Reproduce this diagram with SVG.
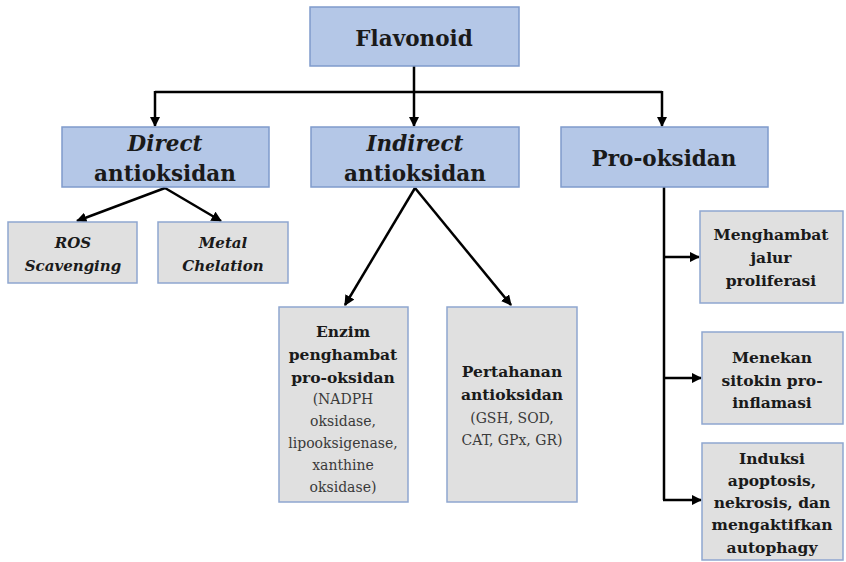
<svg xmlns="http://www.w3.org/2000/svg" width="846" height="562" viewBox="0 0 846 562">
<defs>
<marker id="arr" viewBox="0 0 10 10" refX="9" refY="5" markerWidth="4.2" markerHeight="4.2" orient="auto" markerUnits="strokeWidth">
<path d="M0,0 L10,5 L0,10 z" fill="#000"/>
</marker>
<style>
.blue{fill:#b4c7e7;stroke:#7f9bcc;stroke-width:1.5}
.gray{fill:#e0e0e0;stroke:#8fa6d0;stroke-width:1.5}
text{font-family:"DejaVu Serif","Liberation Serif",serif;text-anchor:middle;fill:#1a1a1a}
.h{font-size:21.5px;font-weight:bold}
.b{font-size:15.5px;font-weight:bold}
.bi{font-size:15px;font-weight:bold;font-style:italic}
.s{font-size:14px;fill:#3a3a3a}
.ln{fill:none;stroke:#000;stroke-width:2.5}
.la{fill:none;stroke:#000;stroke-width:2.5;marker-end:url(#arr)}
</style>
</defs>
<rect width="846" height="562" fill="#fff"/>
<g id="connectors">
<path class="ln" d="M414,66 V92 M155,92 H662"/>
<path class="la" d="M155,91 V126"/>
<path class="la" d="M414,91 V126"/>
<path class="la" d="M662,91 V126"/>
<path class="la" d="M165,188 L77,221"/>
<path class="la" d="M165,188 L221,221"/>
<path class="la" d="M415,188 L345,305"/>
<path class="la" d="M415,188 L511,305"/>
<path class="ln" d="M664,187 V500"/>
<path class="la" d="M663,257 H699"/>
<path class="la" d="M663,378 H701"/>
<path class="la" d="M663,500 H701"/>
</g>
<g id="flavonoid">
<rect class="blue" x="310" y="7" width="209" height="59"/>
<text class="h" x="414" y="46">Flavonoid</text>
</g>
<g id="direct">
<rect class="blue" x="62" y="127" width="207" height="60"/>
<text class="h" x="165" y="151" font-style="italic">Direct</text>
<text class="h" x="165" y="181">antioksidan</text>
</g>
<g id="indirect">
<rect class="blue" x="311" y="127" width="208" height="60"/>
<text class="h" x="415" y="151" font-style="italic">Indirect</text>
<text class="h" x="415" y="181">antioksidan</text>
</g>
<g id="prooksidan">
<rect class="blue" x="561" y="127" width="207" height="60"/>
<text class="h" x="664" y="166">Pro-oksidan</text>
</g>
<g id="ros">
<rect class="gray" x="8" y="222" width="129" height="61"/>
<text class="bi" x="73" y="248">ROS</text>
<text class="bi" x="73" y="271">Scavenging</text>
</g>
<g id="metal">
<rect class="gray" x="158" y="222" width="130" height="61"/>
<text class="bi" x="223" y="248">Metal</text>
<text class="bi" x="223" y="271">Chelation</text>
</g>
<g id="enzim">
<rect class="gray" x="279" y="307" width="129" height="195"/>
<text class="b" x="343" y="337">Enzim</text>
<text class="b" x="343" y="360">penghambat</text>
<text class="b" x="343" y="383">pro-oksidan</text>
<text class="s" x="343" y="404">(NADPH</text>
<text class="s" x="343" y="426">oksidase,</text>
<text class="s" x="343" y="448">lipooksigenase,</text>
<text class="s" x="343" y="470">xanthine</text>
<text class="s" x="343" y="492">oksidase)</text>
</g>
<g id="pertahanan">
<rect class="gray" x="447" y="307" width="130" height="195"/>
<text class="b" x="512" y="377">Pertahanan</text>
<text class="b" x="512" y="400">antioksidan</text>
<text class="s" x="512" y="423">(GSH, SOD,</text>
<text class="s" x="512" y="445">CAT, GPx, GR)</text>
</g>
<g id="menghambat">
<rect class="gray" x="700" y="211" width="143" height="92"/>
<text class="b" x="771" y="240">Menghambat</text>
<text class="b" x="771" y="263">jalur</text>
<text class="b" x="771" y="286">proliferasi</text>
</g>
<g id="menekan">
<rect class="gray" x="702" y="332" width="141" height="92"/>
<text class="b" x="772" y="363">Menekan</text>
<text class="b" x="772" y="386">sitokin pro-</text>
<text class="b" x="772" y="408">inflamasi</text>
</g>
<g id="induksi">
<rect class="gray" x="702" y="443" width="141" height="117"/>
<text class="b" x="772" y="464">Induksi</text>
<text class="b" x="772" y="486">apoptosis,</text>
<text class="b" x="772" y="508">nekrosis, dan</text>
<text class="b" x="772" y="530">mengaktifkan</text>
<text class="b" x="772" y="553">autophagy</text>
</g>
</svg>
